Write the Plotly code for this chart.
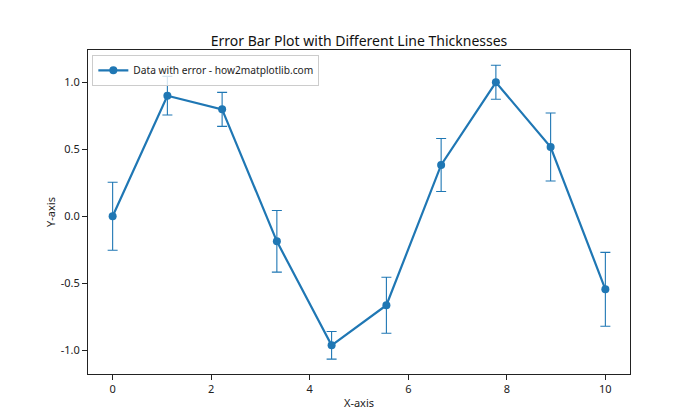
import plotly.graph_objects as go

# values
x = [0.0, 1.111, 2.222, 3.333, 4.444, 5.556, 6.667, 7.778, 8.889, 10.0]
y = [0.0, 0.900, 0.798, -0.187, -0.963, -0.664, 0.383, 1.0, 0.517, -0.545]
yerr = [0.254, 0.144, 0.127, 0.230, 0.103, 0.209, 0.198, 0.127, 0.254, 0.276]

x_ticks = [0, 2, 4, 6, 8, 10]
y_ticks = [-1.0, -0.5, 0.0, 0.5, 1.0]
y_tick_labels = ["-1.0", "-0.5", "0.0", "0.5", "1.0"]

BLUE = "#1f77b4"
FONT = "Noto Sans"

# the page body adds an 8px offset, so the figure is drawn a bit smaller
W, H = 692, 412

fig = go.Figure()

fig.add_trace(
    go.Scatter(
        x=x,
        y=y,
        mode="lines+markers",
        name="Data with error - how2matplotlib.com",
        line={"color": BLUE, "width": 2.2},
        marker={"color": BLUE, "size": 8},
        error_y={
            "type": "data",
            "array": yerr,
            "visible": True,
            "color": BLUE,
            "thickness": 1.1,
            "width": 5,
        },
    )
)

axis_style = {
    "showline": True,
    "linecolor": "#222222",
    "linewidth": 1,
    "mirror": True,
    "ticks": "outside",
    "ticklen": 5,
    "tickcolor": "#222222",
    "showgrid": False,
    "zeroline": False,
    "tickfont": {"size": 11, "color": "#222222"},
}

fig.update_layout(
    width=W,
    height=H,
    template="plotly_white",
    font={"family": FONT, "color": "#222222"},
    title={
        "text": "Error Bar Plot with Different Line Thicknesses",
        "x": (80 + 542 / 2) / W,
        "xanchor": "center",
        "y": 1 - 33 / H,
        "yanchor": "middle",
        "font": {"size": 14, "color": "#111111"},
    },
    margin={"l": 80, "r": 70, "t": 42, "b": 46},
    plot_bgcolor="white",
    paper_bgcolor="white",
    showlegend=True,
    legend={
        "x": 0.008,
        "y": 0.985,
        "xanchor": "left",
        "yanchor": "top",
        "bgcolor": "rgba(255,255,255,0.8)",
        "bordercolor": "#cccccc",
        "borderwidth": 1,
        "itemwidth": 30,
        "font": {"size": 10.2, "color": "#222222"},
    },
)

fig.update_xaxes(
    range=[-0.5, 10.5],
    tickvals=x_ticks,
    title={"text": "X-axis", "font": {"size": 11}, "standoff": 4},
    **axis_style,
)
fig.update_yaxes(
    range=[-1.177, 1.241],
    tickvals=y_ticks,
    ticktext=y_tick_labels,
    title={"text": "Y-axis", "font": {"size": 11}, "standoff": 2},
    **axis_style,
)

fig.write_html("out.html")
